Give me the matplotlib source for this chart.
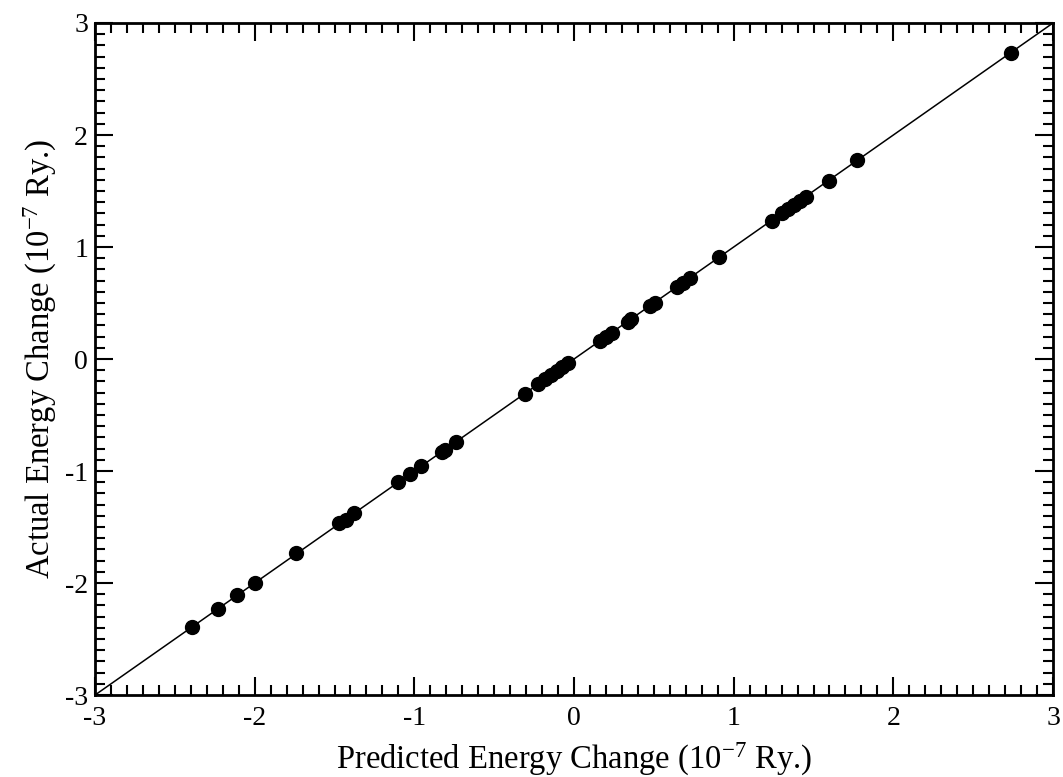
import numpy as np
import matplotlib
matplotlib.use("Agg")
from matplotlib import rcParams
rcParams["font.family"] = "serif"
rcParams["font.serif"] = ["Liberation Serif"]
rcParams["mathtext.fontset"] = "custom"
rcParams["mathtext.rm"] = "Liberation Serif"
rcParams["mathtext.it"] = "Liberation Serif:italic"
rcParams["axes.unicode_minus"] = False
import matplotlib.pyplot as plt
from matplotlib.ticker import MultipleLocator

# predicted vs actual energy change (10^-7 Ry.)
predicted = [-2.39, -2.23, -2.11, -2.00, -1.74, -1.47, -1.43, -1.38, -1.10, -1.03,
             -0.96, -0.83, -0.81, -0.74, -0.31, -0.225, -0.18, -0.145, -0.105, -0.075,
             -0.04, 0.16, 0.20, 0.235, 0.335, 0.36, 0.475, 0.505, 0.645, 0.68,
             0.725, 0.91, 1.24, 1.305, 1.34, 1.375, 1.415, 1.45, 1.595, 1.775, 2.74]
actual = [-2.39, -2.23, -2.11, -2.00, -1.735, -1.465, -1.435, -1.375, -1.10, -1.03,
          -0.955, -0.83, -0.81, -0.74, -0.31, -0.225, -0.18, -0.145, -0.105, -0.07,
          -0.04, 0.16, 0.20, 0.23, 0.33, 0.355, 0.47, 0.50, 0.645, 0.68,
          0.72, 0.915, 1.235, 1.30, 1.335, 1.375, 1.41, 1.45, 1.59, 1.775, 2.735]
lim = [-3, 3]

fig = plt.figure(figsize=(10.63, 7.77), dpi=100)
ax = fig.add_axes([0.0894, 0.1055, 0.9012, 0.8649])

ax.plot(lim, lim, "k-", lw=1.1, zorder=1)
ax.plot(predicted, actual, "ko", ms=10, zorder=2)

ax.set_xlim(lim)
ax.set_ylim(lim)
ax.xaxis.set_major_locator(MultipleLocator(1))
ax.yaxis.set_major_locator(MultipleLocator(1))
ax.xaxis.set_minor_locator(MultipleLocator(0.1))
ax.yaxis.set_minor_locator(MultipleLocator(0.1))
ax.tick_params(which="both", direction="in", top=True, right=True, width=1.5)
ax.tick_params(which="major", length=13, labelsize=20)
ax.tick_params(axis="x", which="major", pad=8)
ax.tick_params(axis="y", which="major", pad=5)
ax.tick_params(which="minor", length=7)
for s in ax.spines.values():
    s.set_linewidth(2)

ax.set_xlabel(r"Predicted Energy Change (10$^{-7}$ Ry.)", fontsize=23.5, labelpad=7)
ax.set_ylabel(r"Actual Energy Change (10$^{-7}$ Ry.)", fontsize=23.5, labelpad=4)

plt.savefig("out.png", dpi=100)
